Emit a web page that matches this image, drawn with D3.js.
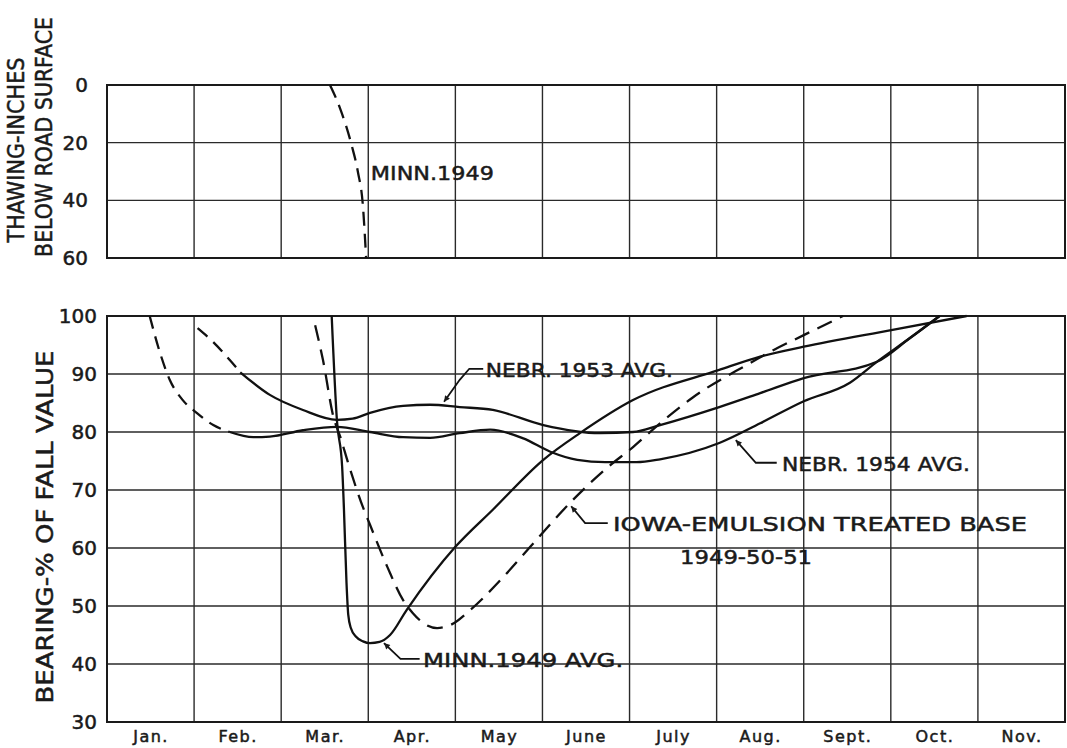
<!DOCTYPE html>
<html>
<head>
<meta charset="utf-8">
<script src="https://cdn.jsdelivr.net/npm/d3@7"></script>
<style>
  body { margin: 0; background: #fff; }
  text { font-family: "DejaVu Sans", sans-serif; fill: #1a1a1a; stroke: #1a1a1a; stroke-width: 0.5px; }
</style>
</head>
<body>
<svg id="chart" width="1067" height="748"></svg>
<script>
const months = ["Jan.", "Feb.", "Mar.", "Apr.", "May", "June", "July", "Aug.", "Sept.", "Oct.", "Nov."];
const thawTicks = [0, 20, 40, 60];
const bearingTicks = [30, 40, 50, 60, 70, 80, 90, 100];

// x values are in months from Jan. 1 (0) to Nov. 30 (11)
const minnThawX = [2.56, 2.675, 2.81, 2.88, 2.94, 2.975];
const minnThawDepth = [0, 8, 21, 30, 42.5, 60];

const nebr53X = [1.04, 1.22, 1.41, 1.53, 1.87, 2.25, 2.64, 2.82, 3.02, 3.40, 3.71, 4.05, 4.43, 5.01, 5.66, 6.04, 6.35, 7.03, 7.50, 8.00, 8.84, 9.22, 9.56];
const nebr53V = [97.9, 95.5, 92.4, 90.3, 86.4, 83.8, 82.1, 82.3, 83.3, 84.5, 84.7, 84.3, 83.8, 81.2, 79.8, 80.0, 81.2, 84.3, 86.7, 89.3, 92.1, 96.2, 100];
const nebr53DashTo = 1.53;

const nebr54X = [0.49, 0.61, 0.72, 0.87, 1.03, 1.22, 1.41, 1.68, 1.87, 2.25, 2.64, 3.02, 3.40, 3.71, 4.05, 4.40, 4.78, 5.09, 5.40, 5.72, 6.08, 6.35, 7.03, 7.50, 8.00, 8.53, 8.84, 9.22, 9.56];
const nebr54V = [100, 93.6, 89.0, 85.5, 83.3, 81.2, 80.0, 79.1, 79.2, 80.3, 80.9, 80.0, 79.1, 79.0, 79.8, 80.4, 78.9, 76.6, 75.2, 74.8, 74.8, 75.3, 78.1, 81.5, 85.3, 88.5, 92.1, 96.2, 100];
const nebr54DashTo = 1.41;

const minnX = [2.58, 2.64, 2.70, 2.72, 2.75, 2.77, 2.80, 2.86, 2.94, 3.02, 3.13, 3.25, 3.44, 4.00, 4.43, 5.01, 5.43, 6.04, 7.03, 7.50, 8.00, 9.02, 9.87];
const minnV = [100, 82, 74, 67, 54, 48.5, 46.2, 44.7, 43.9, 43.6, 43.8, 45, 49.3, 60.2, 66.6, 75.2, 79.8, 85.5, 90.7, 93, 94.7, 97.6, 100];

const iowaX = [2.39, 2.48, 2.60, 2.68, 2.77, 2.94, 3.02, 3.22, 3.40, 3.51, 3.67, 3.79, 3.94, 4.17, 4.55, 4.86, 5.35, 5.74, 6.04, 6.35, 6.73, 7.35, 7.65, 8.00, 8.45];
const iowaV = [98.4, 92.4, 82.6, 79.1, 74.6, 67, 64, 56.7, 51, 48.8, 46.7, 46.2, 46.7, 49.3, 55, 60.2, 68.3, 73.8, 77.4, 81.5, 86, 91.6, 94.1, 96.7, 100];

const svg = d3.select("#chart");
const x = d3.scaleLinear().domain([0, 11]).range([107, 1065]);
const yT = d3.scaleLinear().domain([0, 60]).range([85, 258]);
const yB = d3.scaleLinear().domain([30, 100]).range([722, 316]);

const zip = (xs, vs) => xs.map((d, i) => [d, vs[i]]);

// arrow marker for leaders
svg.append("defs").append("marker")
    .attr("id", "arrow")
    .attr("viewBox", "0 0 10 10")
    .attr("refX", 10).attr("refY", 5)
    .attr("markerWidth", 9).attr("markerHeight", 6)
    .attr("markerUnits", "userSpaceOnUse")
    .attr("orient", "auto")
    .append("path").attr("d", "M0,0 L10,5 L0,10 Z").attr("fill", "#1a1a1a");

function grid(yScale, ticks) {
    const g = svg.append("g");
    g.selectAll("line.h").data(ticks).enter().append("line")
        .attr("x1", x(0)).attr("x2", x(11))
        .attr("y1", d => yScale(d)).attr("y2", d => yScale(d))
        .attr("stroke", "#2a2a2a").attr("stroke-width", 1.4);
    g.selectAll("line.v").data(d3.range(0, 12)).enter().append("line")
        .attr("x1", d => x(d)).attr("x2", d => x(d))
        .attr("y1", yScale.range()[0]).attr("y2", yScale.range()[1])
        .attr("stroke", "#2a2a2a").attr("stroke-width", 1.4);
    g.append("rect")
        .attr("x", x(0)).attr("y", Math.min(...yScale.range()))
        .attr("width", x(11) - x(0))
        .attr("height", Math.abs(yScale.range()[1] - yScale.range()[0]))
        .attr("fill", "none").attr("stroke", "#1a1a1a").attr("stroke-width", 2);
}
grid(yT, thawTicks);
grid(yB, bearingTicks);

// tick labels
svg.append("g").attr("transform", `translate(${x(0)},0)`)
    .call(d3.axisLeft(yT).tickValues(thawTicks).tickSize(0).tickPadding(19))
    .call(g => g.select(".domain").remove())
    .selectAll("text").style("font-size", "20px").attr("fill", "#1a1a1a");
svg.append("g").attr("transform", `translate(${x(0)},0)`)
    .call(d3.axisLeft(yB).tickValues(bearingTicks).tickSize(0).tickPadding(10))
    .call(g => g.select(".domain").remove())
    .selectAll("text").style("font-size", "20px").attr("fill", "#1a1a1a");
svg.append("g").attr("transform", `translate(0,${yB(30)})`)
    .call(d3.axisBottom(x).tickValues(d3.range(0.5, 11, 1)).tickFormat((d, i) => months[i]).tickSize(0).tickPadding(9))
    .call(g => g.select(".domain").remove())
    .selectAll("text").style("font-size", "16px").style("letter-spacing", "1.5px").attr("fill", "#1a1a1a");

// axis titles: squeezed with a scale so the box matches what is drawn
function vtitle(txt, cx, cy, len) {
    const t = svg.append("text")
        .attr("text-anchor", "middle").attr("dy", "0.36em")
        .style("font-size", "23px")
        .text(txt);
    const k = len / t.node().getComputedTextLength();
    t.attr("transform", `translate(${cx},${cy}) rotate(-90) scale(${k},1)`);
}
vtitle("THAWING-INCHES", 16, 150, 185);
vtitle("BELOW ROAD SURFACE", 44, 137, 240);
vtitle("BEARING-% OF FALL VALUE", 45, 527, 353);

// curves
const lineT = d3.line().x(d => x(d[0])).y(d => yT(d[1])).curve(d3.curveMonotoneX);
const lineB = d3.line().x(d => x(d[0])).y(d => yB(d[1])).curve(d3.curveMonotoneX);

function draw(gen, pts, dash) {
    svg.append("path").attr("d", gen(pts))
        .attr("fill", "none").attr("stroke", "#111").attr("stroke-width", 2.3)
        .attr("stroke-dasharray", dash || null);
}
function drawSplit(xs, vs, dashTo) {
    const pts = zip(xs, vs);
    draw(lineB, pts.filter(d => d[0] <= dashTo), "13,8");
    draw(lineB, pts.filter(d => d[0] >= dashTo));
}

draw(lineT, zip(minnThawX, minnThawDepth), "14,8");
drawSplit(nebr53X, nebr53V, nebr53DashTo);
drawSplit(nebr54X, nebr54V, nebr54DashTo);
draw(lineB, zip(minnX, minnV));
draw(lineB, zip(iowaX, iowaV), "16,9");

// labels and leaders
function label(txt, m, v, yScale, len) {
    svg.append("text").attr("x", x(m)).attr("y", yScale(v))
        .attr("textLength", len).attr("lengthAdjust", "spacingAndGlyphs")
        .style("font-size", "20px").text(txt);
}
function leader(pts) {
    svg.append("path")
        .attr("d", d3.line().x(d => x(d[0])).y(d => yB(d[1])).curve(d3.curveLinear)(pts))
        .attr("fill", "none").attr("stroke", "#111").attr("stroke-width", 1.8)
        .attr("marker-end", "url(#arrow)");
}

label("MINN.1949", 3.03, 33, yT, 123);

label("NEBR. 1953 AVG.", 4.35, 89.5, yB, 187);
leader([[4.32, 90.9], [4.16, 90.9], [4.05, 89.0], [3.87, 85.2]]);

label("NEBR. 1954 AVG.", 7.75, 73.3, yB, 188);
leader([[7.69, 74.7], [7.45, 74.7], [7.22, 78.6]]);

label("IOWA-EMULSION TREATED BASE", 5.81, 62.9, yB, 414);
label("1949-50-51", 6.58, 57.2, yB, 132);
leader([[5.75, 64.3], [5.49, 64.3], [5.33, 67.2]]);

label("MINN.1949 AVG.", 3.63, 39.5, yB, 200);
leader([[3.59, 40.9], [3.37, 40.9], [3.18, 43.6]]);
</script>
</body>
</html>
